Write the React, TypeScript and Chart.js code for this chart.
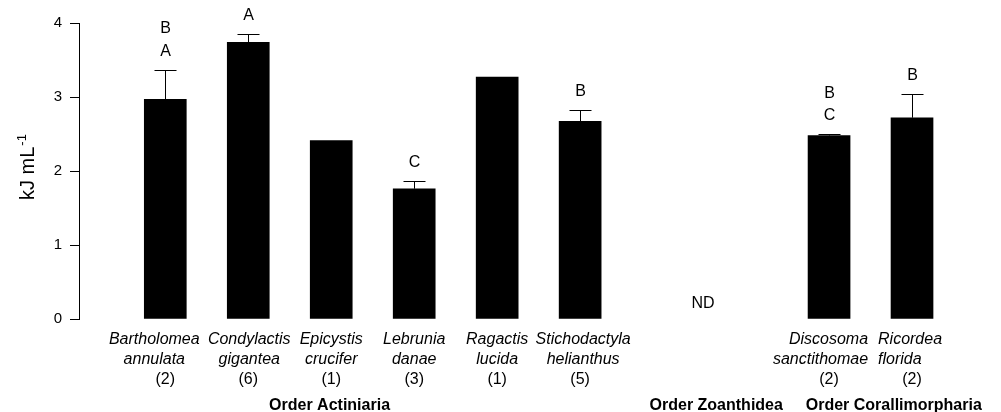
import { useEffect, useRef } from "react";
import { Chart, registerables } from "chart.js";

Chart.register(...registerables);

// ---------- data ----------
const speciesGenus = ["Bartholomea", "Condylactis", "Epicystis", "Lebrunia", "Ragactis", "Stichodactyla", "Discosoma", "Ricordea"];
const speciesEpithet = ["annulata", "gigantea", "crucifer", "danae", "lucida", "helianthus", "sanctithomae", "florida"];
const sampleSizes = [2, 6, 1, 3, 1, 5, 2, 2];
const slotIndex = [0, 1, 2, 3, 4, 5, 8, 9];
const meanEnergy = [2.97, 3.74, 2.41, 1.76, 3.27, 2.67, 2.48, 2.72];
const errorEnergy = [0.4, 0.11, 0, 0.1, 0, 0.16, 0.02, 0.32];
const groupLetters = [["B", "A"], ["A"], [], ["C"], [], ["B"], ["B", "C"], ["B"]];
const orderNames = ["Order Actiniaria", "Order Zoanthidea", "Order Corallimorpharia"];
const orderSlots = [1.98, 6.64, 8.78];
const noDataLabel = "ND";
const noDataSlot = 6.48;
const yTickValues = [0, 1, 2, 3, 4];
const yTitle = "kJ mL";
const yTitleSup = "-1";

// ---------- style ----------
const FONT = "'Liberation Sans', Arial, Helvetica, sans-serif";
const labelLayout: { align: CanvasTextAlign; dx: number }[] = [
  { align: "center", dx: -11 },
  { align: "center", dx: 1 },
  { align: "center", dx: 0 },
  { align: "center", dx: 0 },
  { align: "center", dx: 0 },
  { align: "center", dx: 3 },
  { align: "right", dx: 39 },
  { align: "left", dx: -34 },
];

const annotationPlugin = {
  id: "annotations",
  afterDraw(chart: any) {
    const ctx: CanvasRenderingContext2D = chart.ctx;
    const xs = chart.scales.x;
    const ys = chart.scales.y;
    ctx.save();
    ctx.fillStyle = "#000";
    ctx.strokeStyle = "#000";
    ctx.lineWidth = 1;

    // error bars + letters
    for (let i = 0; i < meanEnergy.length; i++) {
      const x = Math.round(xs.getPixelForValue(slotIndex[i])) + 0.5;
      const yBar = ys.getPixelForValue(meanEnergy[i]);
      const yTop = ys.getPixelForValue(meanEnergy[i] + errorEnergy[i]);
      if (errorEnergy[i] > 0) {
        const yt = Math.round(yTop) + 0.5;
        ctx.beginPath();
        ctx.moveTo(x, yBar);
        ctx.lineTo(x, yt);
        ctx.moveTo(x - 11, yt);
        ctx.lineTo(x + 11, yt);
        ctx.stroke();
      }
      const letters = groupLetters[i];
      ctx.font = `16px ${FONT}`;
      ctx.textAlign = "center";
      ctx.textBaseline = "alphabetic";
      let base = yTop - 14;
      for (let k = letters.length - 1; k >= 0; k--) {
        ctx.fillText(letters[k], x, base);
        base -= 22.5;
      }
    }

    // category labels
    for (let i = 0; i < speciesGenus.length; i++) {
      const cx = xs.getPixelForValue(slotIndex[i]);
      const lay = labelLayout[i];
      ctx.textAlign = lay.align;
      ctx.font = `italic 16px ${FONT}`;
      ctx.fillText(speciesGenus[i], cx + lay.dx, 344);
      ctx.fillText(speciesEpithet[i], cx + lay.dx, 364);
      ctx.textAlign = "center";
      ctx.font = `16px ${FONT}`;
      ctx.fillText(`(${sampleSizes[i]})`, cx, 384);
    }

    // ND
    ctx.font = `16px ${FONT}`;
    ctx.textAlign = "center";
    ctx.fillText(noDataLabel, xs.getPixelForValue(noDataSlot), 308);

    // order labels
    ctx.font = `bold 16px ${FONT}`;
    for (let i = 0; i < orderNames.length; i++) {
      ctx.fillText(orderNames[i], xs.getPixelForValue(orderSlots[i]), 410);
    }

    // y title with superscript
    ctx.translate(34, 200);
    ctx.rotate(-Math.PI / 2);
    ctx.textAlign = "left";
    ctx.font = `20px ${FONT}`;
    ctx.fillText(yTitle, 0, 0);
    const w = ctx.measureText(yTitle).width;
    ctx.font = `13px ${FONT}`;
    ctx.fillText(yTitleSup, w + 1, -8);
    ctx.restore();
  },
};

export default function App() {
  const ref = useRef<HTMLCanvasElement | null>(null);
  useEffect(() => {
    if (!ref.current) return;
    const chart = new Chart(ref.current, {
      type: "bar",
      data: {
        datasets: [
          {
            data: meanEnergy.map((v, i) => ({ x: slotIndex[i], y: v })),
            backgroundColor: "#000",
            borderColor: "#000",
            borderWidth: 0,
            barThickness: 42,
          },
        ],
      },
      options: {
        animation: false,
        responsive: false,
        events: [],
        layout: { padding: { left: 0, top: 23, right: 6, bottom: 93 } },
        plugins: { legend: { display: false }, tooltip: { enabled: false }, title: { display: false } },
        scales: {
          x: {
            type: "linear",
            min: -1.04,
            max: 10,
            offset: false,
            display: false,
          },
          y: {
            min: 0,
            max: 4,
            afterFit: (s: any) => {
              s.width = 79;
            },
            afterBuildTicks: (s: any) => {
              s.ticks = yTickValues.map((v) => ({ value: v }));
            },
            ticks: {
              color: "#000",
              font: { size: 15, family: FONT },
              padding: 8,
            },
            grid: {
              drawOnChartArea: false,
              drawTicks: true,
              tickLength: 9,
              color: "#000",
              lineWidth: 1,
            },
            border: { display: true, color: "#000", width: 1 },
          },
        },
      },
      plugins: [annotationPlugin],
    });
    return () => chart.destroy();
  }, []);
  return (
    <div style={{ position: "absolute", left: 0, top: 0, width: 1001, height: 412 }}>
      <canvas ref={ref} width={1001} height={412} style={{ display: "block" }} />
    </div>
  );
}
